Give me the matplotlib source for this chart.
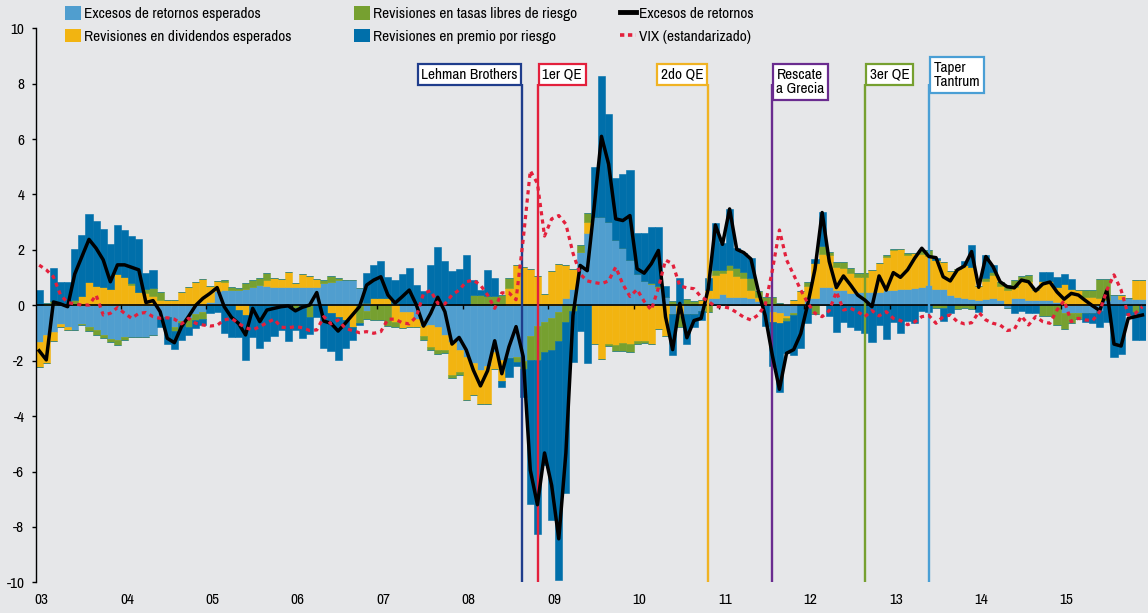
import matplotlib
matplotlib.use('Agg')
import matplotlib.pyplot as plt
import matplotlib.font_manager as fm
from matplotlib.patches import Patch
from matplotlib.lines import Line2D
import numpy as np

# monthly data, Jan 2003 .. Dec 2015 (one row per year)
exc_esperados = [
    -1.31, -1.07, -0.95, -0.67, -0.80, -0.88, -0.67, -0.78, -0.89, -1.08, -1.20, -1.25,
    -1.13, -1.13, -1.13, -1.13, -1.07, -0.50, -0.41, -0.77, -0.55, -0.47, -0.30, -0.23,
    0.13, 0.50, 0.55, 0.55, 0.55, 0.60, 0.65, 0.75, 0.70, 0.65, 0.65, 0.65,
    0.65, 0.65, 0.65, 0.65, 0.80, 0.85, 0.90, 0.91, 0.91, 0.64, -0.20, 0.00,
    0.00, 0.00, 0.10, -0.23, -0.23, -0.50, -0.75, -0.70, -0.80, -1.07, -1.31, -1.61,
    -1.85, -2.10, -2.33, -2.20, -1.70, -1.97, -1.90, -1.85, -2.00, -1.10, -0.73, -0.60,
    -0.45, -0.25, 0.25, 0.60, 1.94, 2.62, 3.18, 3.18, 3.00, 2.37, 2.06, 1.63,
    1.13, 0.88, 0.76, 0.63, 0.30, -0.30, 0.10, -0.30, -0.30, -0.20, 0.25, 0.25,
    0.41, 0.29, 0.29, 0.31, 0.25, 0.17, 0.05, -0.23, -0.29, -0.38, -0.29, 0.00,
    0.25, 0.25, 0.67, 0.67, 0.55, 0.55, 0.46, 0.49, 0.49, 0.49, 0.49, 0.55,
    0.55, 0.60, 0.60, 0.61, 0.65, 0.73, 0.60, 0.59, 0.37, 0.30, 0.25, 0.22,
    0.20, 0.22, 0.25, 0.20, -0.10, 0.25, 0.28, 0.20, 0.20, 0.20, 0.20, 0.12,
    -0.29, -0.29, -0.29, -0.29, -0.26, -0.20, 0.20, 0.37, 0.22, 0.25, 0.24, 0.24,
]
dividendos = [
    -0.90, -1.00, -0.34, -0.13, -0.10, 0.00, 0.34, 0.83, 0.70, 0.65, 0.60, 1.13,
    1.03, 0.75, 0.48, 0.46, 0.34, 0.19, 0.19, 0.19, 0.49, 0.67, 0.84, 0.95,
    0.57, 0.38, 0.30, 0.00, -0.17, -0.35, 0.00, 0.00, 0.20, 0.32, 0.30, 0.55,
    0.17, 0.48, 0.41, 0.30, 0.00, -0.29, -0.41, -0.53, -0.77, 0.00, 0.10, 0.25,
    0.25, 0.25, -0.60, -0.60, -0.55, -0.30, -0.35, -0.80, -0.80, -0.54, -1.20, -0.78,
    -1.56, -1.15, -1.24, -1.36, -0.60, -0.78, 0.62, 1.44, 1.40, 1.30, 1.07, 0.41,
    1.23, 1.50, 1.19, 0.72, 0.00, 0.37, -1.40, -1.95, -1.40, -1.45, -1.35, -1.38,
    -1.30, -1.30, -1.40, -0.86, -1.10, 0.00, -0.40, 0.00, 0.00, 0.20, 0.30, 0.84,
    0.75, 0.99, 0.75, 0.66, 0.30, 0.14, 0.00, -0.39, -0.36, -0.08, 0.20, 0.53,
    0.44, 1.26, 1.20, 1.14, 0.84, 0.78, 0.72, 0.52, 0.52, 0.79, 1.03, 1.20,
    1.45, 1.42, 1.20, 1.29, 1.20, 1.05, 1.05, 0.99, 0.88, 1.00, 1.20, 1.18,
    0.50, 0.64, 0.85, 0.48, 0.55, 0.42, 0.66, 0.66, 0.35, 0.66, 0.66, 0.53,
    0.77, 0.60, 0.55, 0.30, 0.30, 0.25, 0.00, 0.00, 0.15, 0.00, 0.67, 0.67,
]
tasas = [
    0.00, 0.10, 0.15, 0.00, 0.00, 0.20, -0.04, -0.13, -0.17, -0.11, -0.14, -0.20,
    -0.14, 0.05, 0.00, 0.12, 0.28, 0.30, 0.00, -0.15, -0.10, -0.30, -0.22, -0.28,
    0.00, 0.00, 0.05, 0.12, 0.06, 0.22, 0.26, 0.25, 0.25, 0.00, 0.00, 0.00,
    -0.10, 0.00, -0.43, 0.00, 0.11, 0.21, 0.10, 0.00, 0.00, -0.65, -0.30, -0.53,
    -0.53, -0.73, -0.20, 0.00, 0.00, 0.00, -0.15, -0.10, -0.15, -0.12, -0.12, -0.12,
    0.00, 0.37, 0.37, 0.35, 0.35, 0.38, 0.35, -0.20, -0.30, -0.87, -1.24, -1.10,
    -1.15, -1.05, -0.60, -0.20, 0.25, 0.34, 0.00, 0.00, -0.07, -0.20, -0.30, -0.30,
    -0.10, -0.05, 0.05, 0.05, 0.00, 0.14, -0.40, 0.22, 0.14, 0.00, -0.23, 0.18,
    0.12, 0.18, 0.30, 0.24, 0.42, 0.21, 0.26, 0.29, 0.10, -0.10, -0.06, 0.00,
    0.15, -0.30, 0.26, 0.13, 0.19, 0.25, 0.18, 0.15, 0.17, 0.00, 0.00, 0.07,
    0.02, 0.00, 0.08, 0.00, 0.15, 0.22, -0.10, -0.10, 0.00, -0.14, -0.10, -0.14,
    0.00, 0.12, 0.12, 0.17, 0.18, 0.24, 0.12, 0.22, 0.00, -0.40, -0.39, -0.70,
    -0.58, -0.36, -0.21, 0.25, 0.25, 0.70, 0.75, 0.00, 0.00, 0.00, -0.23, 0.00,
]
premio = [
    0.55, 0.00, 1.20, 0.84, 0.84, 1.83, 2.20, 2.47, 2.35, 2.10, 1.60, 1.77,
    1.68, 1.70, 1.90, 0.58, 0.66, -0.30, -1.00, -0.64, -0.60, -0.30, -0.30, -0.19,
    -0.27, -0.24, -1.00, -1.13, -0.96, -1.62, -1.13, -1.55, -1.29, -1.10, -0.89, -1.29,
    -0.79, -1.19, -0.60, -0.43, -1.55, -1.35, -1.56, -1.00, -0.50, -0.05, 1.05, 1.21,
    1.35, 0.78, 0.80, 1.12, 1.34, 0.73, 0.50, 1.46, 2.10, 1.60, 1.25, 1.31,
    1.82, 0.53, 0.18, 0.93, 0.65, -0.20, -0.70, -0.15, -1.00, -5.20, -6.28, -4.05,
    -6.15, -8.63, -6.16, -1.84, -0.92, -2.10, 1.80, 5.09, 3.90, 2.23, 2.67, 3.25,
    1.49, 1.74, 2.02, 2.15, 0.40, -1.50, 0.90, -1.10, -0.50, -0.33, 0.45, 1.71,
    0.96, 2.02, 0.72, 0.67, 0.73, 0.00, -0.75, -1.56, -2.47, -1.17, -1.44, -1.55,
    -0.65, 0.16, 1.24, -0.40, -0.95, -0.59, -0.77, -0.89, -1.01, -1.31, -0.71, -1.20,
    -0.59, -1.01, -0.55, -0.65, -0.20, -0.23, 0.05, -0.45, -0.29, 0.00, 0.15, 0.78,
    -0.23, 0.84, 0.24, 0.00, 0.00, -0.27, -0.20, -0.27, -0.27, 0.36, 0.36, 0.36,
    0.36, 0.34, 0.00, -0.30, -0.39, -0.57, -0.59, -1.85, -1.76, -0.35, -1.02, -1.25,
]
exc_retornos = [
    -1.64, -1.97, 0.12, 0.05, -0.05, 1.13, 1.76, 2.38, 2.06, 1.64, 0.85, 1.46,
    1.46, 1.37, 1.28, 0.10, 0.17, -0.23, -1.19, -1.35, -0.77, -0.40, 0.00, 0.25,
    0.43, 0.64, -0.05, -0.43, -0.65, -1.07, -0.11, -0.59, -0.17, -0.11, -0.05, -0.02,
    -0.20, -0.07, 0.01, 0.46, -0.57, -0.65, -0.93, -0.65, -0.35, -0.05, 0.73, 0.91,
    1.03, 0.37, 0.08, 0.31, 0.55, 0.01, -0.75, -0.29, 0.29, -0.23, -1.40, -1.16,
    -1.61, -2.34, -2.91, -2.36, -1.28, -2.47, -1.50, -0.77, -1.85, -5.95, -7.20, -5.33,
    -6.50, -8.43, -5.33, -0.36, 1.44, 1.25, 3.61, 6.10, 5.10, 3.12, 3.06, 3.24,
    1.32, 1.16, 1.50, 1.98, -0.42, -1.60, 0.07, -1.17, -0.55, -0.47, 0.60, 2.90,
    2.20, 3.48, 2.02, 1.90, 1.67, 0.55, -0.37, -1.80, -3.03, -1.73, -1.60, -1.02,
    0.07, 1.31, 3.35, 1.58, 0.64, 1.06, 0.73, 0.37, 0.19, -0.05, 1.06, 0.55,
    1.18, 1.01, 1.28, 1.70, 2.06, 1.76, 1.72, 1.03, 0.88, 1.28, 1.42, 1.94,
    0.65, 1.76, 1.40, 0.85, 0.67, 0.63, 0.91, 0.85, 0.52, 0.77, 0.84, 0.48,
    0.22, 0.43, 0.37, 0.17, -0.02, -0.19, 0.55, -1.40, -1.47, -0.47, -0.41, -0.35,
]
vix = [
    1.45, 1.28, 1.03, 0.37, 0.10, 0.05, 0.01, 0.01, 0.37, -0.35, -0.29, -0.08,
    -0.29, -0.47, -0.29, -0.26, -0.41, -0.47, -0.45, -0.50, -0.67, -0.47, -0.65, -0.71,
    -0.75, -0.72, -0.53, -0.47, -0.65, -0.81, -0.89, -0.77, -0.63, -0.50, -0.79, -0.81,
    -0.77, -0.81, -0.91, -0.89, -0.41, -0.67, -0.53, -0.83, -0.91, -0.99, -0.95, -1.01,
    -0.95, -0.50, -0.50, -0.63, -0.67, -0.41, 0.43, 0.53, 0.07, 0.05, 0.37, 0.55,
    0.85, 0.91, 0.73, 0.37, -0.11, 0.45, 0.45, 0.20, 2.37, 4.86, 4.40, 2.50,
    3.12, 3.24, 2.93, 1.88, 1.13, 0.88, 0.82, 0.78, 0.88, 1.38, 0.76, 0.32,
    0.57, 0.14, -0.17, 0.63, 1.63, 1.50, 0.70, 0.63, 0.60, 0.30, 0.15, -0.05,
    -0.05, -0.10, -0.26, -0.43, -0.53, -0.35, 0.01, 1.25, 2.72, 1.64, 1.10, 0.55,
    0.07, -0.29, -0.41, -0.19, 0.49, -0.17, -0.11, -0.23, -0.41, -0.19, -0.38, -0.23,
    -0.47, -0.55, -0.70, -0.60, -0.41, -0.37, -0.65, -0.41, -0.35, -0.59, -0.67, -0.63,
    -0.25, -0.53, -0.65, -0.71, -0.91, -0.87, -0.39, -0.71, -0.41, -0.59, -0.65, -0.17,
    0.17, -0.59, -0.47, -0.53, -0.55, -0.23, 0.55, 1.10, 0.55, -0.35, -0.29, -0.05,
]

years = list(range(2003, 2016))
year_labels = ['%02d' % (y % 100) for y in years]

event_dates = [2008.70, 2008.88, 2010.87, 2011.62, 2012.71, 2013.46]
event_labels = ['Lehman Brothers', '1er QE', '2do QE', 'Rescate\na Grecia', '3er QE', 'Taper\nTantrum']
event_colors = ['#1F3D8C', '#E3203C', '#F0B323', '#6A2C8F', '#76A030', '#4A9FD5']
event_side = ['left', 'right', 'left', 'right', 'right', 'right']  # side of the line the box sits on
event_top = [8.58, 8.58, 8.58, 8.58, 8.58, 8.83]

series_labels = ['Excesos de retornos esperados', 'Revisiones en dividendos esperados',
                 'Revisiones en tasas libres de riesgo', 'Revisiones en premio por riesgo']
series_colors = ['#509ECF', '#F2B411', '#76A030', '#006FAA']

bg = '#E6E7E9'
vix_color = '#E3203C'

# look for a narrow / condensed face, the original uses a condensed sans
fam, stretch, fs = 'Liberation Sans', 'normal', 9.5
fonts = fm.fontManager.ttflist
narrow = [f.name for f in fonts if 'Narrow' in f.name or 'Condensed' in f.name]
cond = [f.name for f in fonts if f.stretch in ('condensed', 'semi-condensed', 400, 500)
        and f.name in ('Roboto', 'Open Sans', 'Noto Sans', 'DejaVu Sans', 'Liberation Sans')]
if narrow:
    fam, fs = sorted(narrow)[0], 11
elif cond:
    fam, stretch, fs = cond[0], 'condensed', 11
plt.rcParams['font.family'] = fam
plt.rcParams['font.stretch'] = stretch
plt.rcParams['axes.unicode_minus'] = False

fig = plt.figure(figsize=(11.48, 6.13), dpi=100)
fig.patch.set_facecolor(bg)
ax = fig.add_axes([35.6 / 1148, 1 - 582.3 / 613, 1110.4 / 1148, 554 / 613])
ax.set_facecolor(bg)

n = len(exc_retornos)
x_left = 2003 + np.arange(n) / 12
x_mid = x_left + 1 / 24

# stacked bars, positives up and negatives down
pos_bottom = np.zeros(n)
neg_bottom = np.zeros(n)
for vals, col in zip([exc_esperados, dividendos, tasas, premio], series_colors):
    v = np.array(vals)
    p = np.where(v > 0, v, 0)
    q = np.where(v < 0, v, 0)
    ax.bar(x_left, p, width=1 / 12, bottom=pos_bottom, align='edge', color=col,
           edgecolor=col, linewidth=0.4, zorder=2)
    ax.bar(x_left, q, width=1 / 12, bottom=neg_bottom, align='edge', color=col,
           edgecolor=col, linewidth=0.4, zorder=2)
    pos_bottom += p
    neg_bottom += q

ax.axhline(0, color='black', lw=1.2, zorder=3)
ax.vlines(years[1:], -0.15, 0, color='black', lw=1, zorder=3)

# events
for d, lab, col, side, top in zip(event_dates, event_labels, event_colors, event_side, event_top):
    ax.plot([d, d], [-10, 8.0], color=col, lw=1.7, zorder=4, solid_capstyle='butt')
    dx = -3.3 if side == 'left' else 3.3
    ax.annotate(lab, xy=(d, top), xytext=(dx, 0), textcoords='offset points',
                ha='right' if side == 'left' else 'left', va='top', fontsize=fs,
                linespacing=1.05,
                bbox=dict(boxstyle='square,pad=0.22', fc='white', ec=col, lw=1.6), zorder=8)

ax.plot(x_mid, exc_retornos, color='black', lw=2.5, zorder=5)
ax.plot(x_mid, vix, color=vix_color, lw=2.3, ls=(0, (1.3, 1.3)), zorder=6)

ax.set_xlim(2003, 2016)
ax.set_ylim(-10, 10)
ax.set_yticks(range(-10, 11, 2))
ax.set_xticks([y + 0.07 for y in years])
ax.set_xticklabels(year_labels)
for s in ['top', 'right', 'bottom']:
    ax.spines[s].set_visible(False)
ax.spines['left'].set_linewidth(1)
ax.tick_params(axis='y', direction='out', length=3, width=1, labelsize=fs, pad=5)
ax.tick_params(axis='x', length=0, labelsize=fs, pad=8)

# legend in three columns placed separately
h_bars = [Patch(facecolor=c, edgecolor='none') for c in series_colors]
h_lines = [Line2D([], [], color='black', lw=3.5),
           Line2D([], [], color=vix_color, lw=2.6, ls=(0, (1.2, 1.0)))]
leg_kw = dict(loc='upper left', frameon=False, fontsize=fs, handlelength=1.05,
              handleheight=1.0, handletextpad=0.2, labelspacing=0.5, borderpad=0,
              borderaxespad=0)
fig.legend(h_bars[:2], series_labels[:2], bbox_to_anchor=(65 / 1148, 1 - 6 / 613), **leg_kw)
fig.legend(h_bars[2:], series_labels[2:], bbox_to_anchor=(354 / 1148, 1 - 6 / 613), **leg_kw)
fig.legend(h_lines, ['Excesos de retornos', 'VIX (estandarizado)'],
           bbox_to_anchor=(620 / 1148, 1 - 6 / 613), **leg_kw)

fig.savefig('out.png', dpi=100, facecolor=bg)
